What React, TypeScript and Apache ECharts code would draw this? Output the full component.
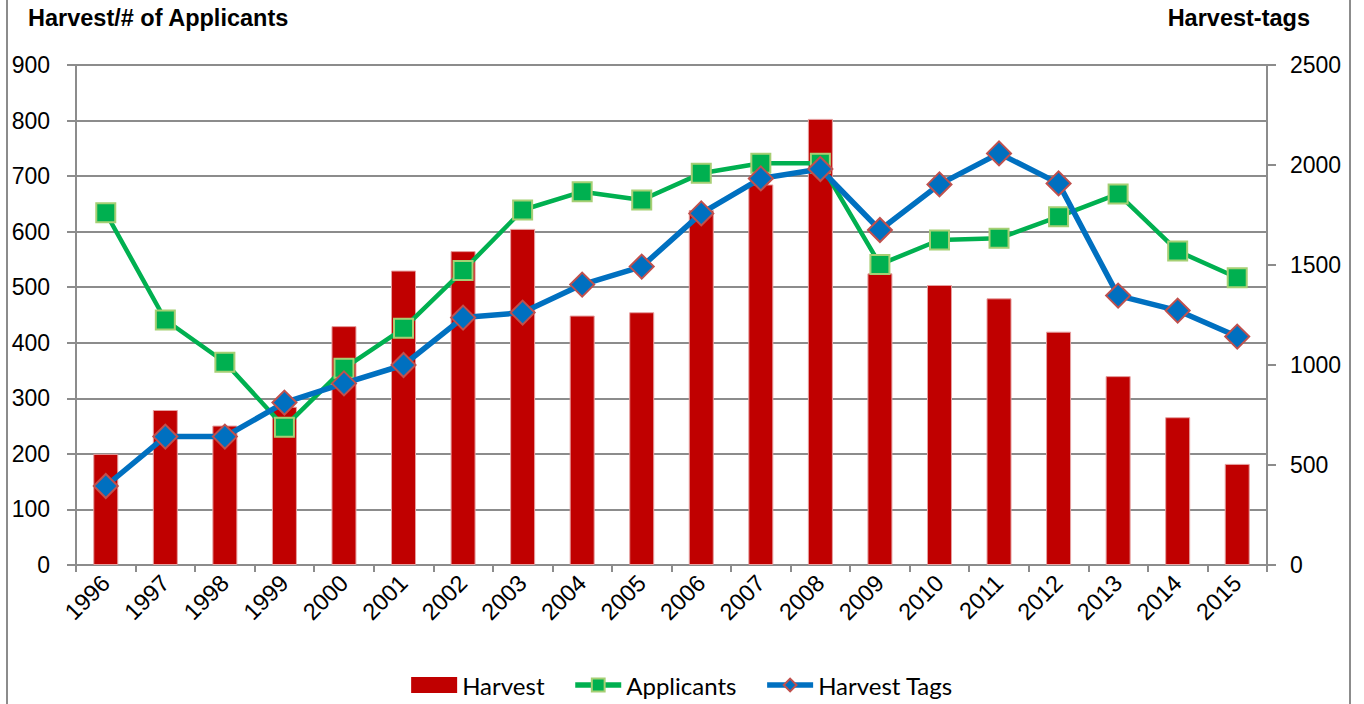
import React, { useEffect, useRef } from "react";
import * as echarts from "echarts";

const years = ["1996","1997","1998","1999","2000","2001","2002","2003","2004","2005","2006","2007","2008","2009","2010","2011","2012","2013","2014","2015"];
const harvest = [200, 279, 251, 285, 430, 530, 565, 605, 449, 455, 639, 685, 803, 525, 504, 480, 420, 340, 266, 182];
const applicants = [634, 441, 365, 248, 354, 426, 530, 639, 672, 657, 705, 723, 723, 541, 585, 588, 627, 668, 565, 517];
const harvestTags = [395, 642, 642, 812, 908, 1000, 1237, 1262, 1402, 1492, 1758, 1933, 1980, 1675, 1903, 2058, 1908, 1347, 1272, 1142];

const leftTicks = { min: 0, max: 900, interval: 100 };
const rightTicks = { min: 0, max: 2500, interval: 500 };

const GRAY = "#8c8c8c";
const TICK_FONT = "'Liberation Sans', Arial, sans-serif";
const LEGEND_FONT = "Lato, 'Liberation Sans', sans-serif";

export default function App() {
  const ref = useRef<HTMLDivElement>(null);
  useEffect(() => {
    document.body.style.margin = "0";
    const chart = echarts.init(ref.current!, null, { renderer: "svg" });
    chart.setOption({
      animation: false,
      backgroundColor: "#ffffff",
      graphic: [
        { type: "line", shape: { x1: 7, y1: -5, x2: 7, y2: 710 }, style: { stroke: GRAY, lineWidth: 2 } },
        { type: "line", shape: { x1: 1350, y1: -5, x2: 1350, y2: 710 }, style: { stroke: GRAY, lineWidth: 2 } },
        { type: "text", left: 28, top: 6, style: { text: "Harvest/# of Applicants", font: "bold 23.5px 'Liberation Sans', Arial, sans-serif", fill: "#000" } },
        { type: "text", right: 54, top: 6, style: { text: "Harvest-tags", font: "bold 23.5px 'Liberation Sans', Arial, sans-serif", fill: "#000" } },
      ],
      grid: { left: 76, right: 97, top: 65, bottom: 139, containLabel: false },
      legend: {
        bottom: 2,
        left: "center",
        itemWidth: 46,
        itemHeight: 16,
        itemGap: 28,
        textStyle: { fontFamily: LEGEND_FONT, fontSize: 24, color: "#000" },
        data: [
          { name: "Harvest", icon: "rect", itemStyle: { borderWidth: 0 } },
          { name: "Applicants", lineStyle: { width: 5.5 } },
          { name: "Harvest Tags", lineStyle: { width: 5.5 } },
        ],
      },
      xAxis: {
        type: "category",
        data: years,
        boundaryGap: true,
        axisLine: { lineStyle: { color: GRAY, width: 2 } },
        axisTick: { show: true, length: 7, lineStyle: { color: GRAY, width: 2 } },
        axisLabel: { rotate: 45, fontSize: 23.5, fontFamily: TICK_FONT, color: "#000", margin: 14, interval: 0 },
      },
      yAxis: [
        {
          type: "value",
          min: leftTicks.min,
          max: leftTicks.max,
          interval: leftTicks.interval,
          position: "left",
          axisLine: { show: true, lineStyle: { color: GRAY, width: 2 } },
          axisTick: { show: true, length: 9, lineStyle: { color: GRAY, width: 2 } },
          axisLabel: { fontSize: 23, fontFamily: TICK_FONT, color: "#000", margin: 26 },
          splitLine: { show: true, lineStyle: { color: GRAY, width: 2 } },
        },
        {
          type: "value",
          min: rightTicks.min,
          max: rightTicks.max,
          interval: rightTicks.interval,
          position: "right",
          axisLine: { show: true, lineStyle: { color: GRAY, width: 2 } },
          axisTick: { show: true, length: 9, lineStyle: { color: GRAY, width: 2 } },
          axisLabel: { fontSize: 23, fontFamily: TICK_FONT, color: "#000", margin: 23, formatter: (v: number) => String(v) },
          splitLine: { show: false },
        },
      ],
      series: [
        {
          name: "Harvest",
          type: "bar",
          yAxisIndex: 0,
          data: harvest,
          barWidth: 25,
          itemStyle: { color: "#C00000", borderColor: "#e6a0a0", borderWidth: 1 },
        },
        {
          name: "Applicants",
          type: "line",
          yAxisIndex: 0,
          data: applicants,
          symbol: "rect",
          symbolSize: 19,
          lineStyle: { color: "#00B050", width: 4.5 },
          itemStyle: { color: "#00B050", borderColor: "#a6cf74", borderWidth: 2 },
          z: 3,
        },
        {
          name: "Harvest Tags",
          type: "line",
          yAxisIndex: 1,
          data: harvestTags,
          symbol: "diamond",
          symbolSize: 24,
          lineStyle: { color: "#0070C0", width: 5.5 },
          itemStyle: { color: "#0070C0", borderColor: "#C0504D", borderWidth: 2 },
          z: 4,
        },
      ],
    });
    return () => chart.dispose();
  }, []);
  return <div ref={ref} style={{ width: 1364, height: 704 }} />;
}
